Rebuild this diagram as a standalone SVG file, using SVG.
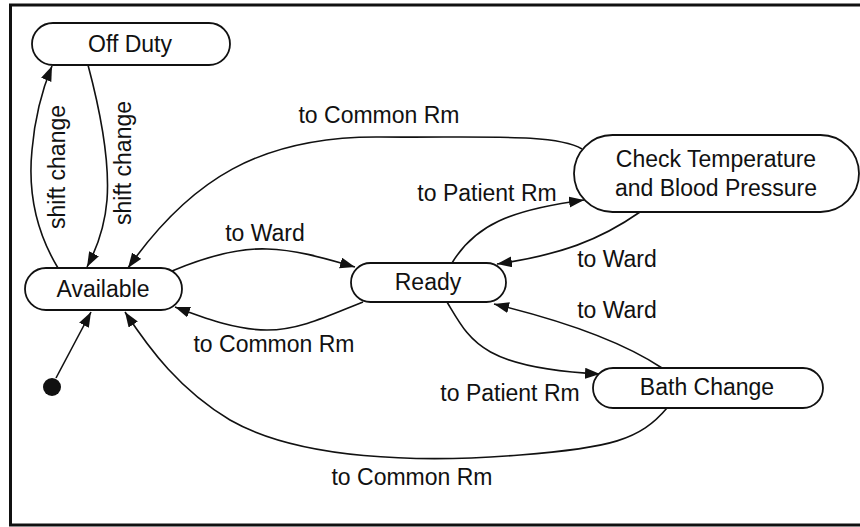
<svg xmlns="http://www.w3.org/2000/svg" width="860" height="527" viewBox="0 0 860 527">
  <style>
    .state { fill: #fff; stroke: #111; stroke-width: 1.8; }
    .label { font-family: "Liberation Sans", Arial, sans-serif; font-size: 23px; fill: #111; text-anchor: middle; }
    .edge { fill: none; stroke: #111; stroke-width: 1.6; marker-end: url(#arrow); }
  </style>
  <defs>
    <marker id="arrow" markerUnits="userSpaceOnUse" markerWidth="16" markerHeight="12" refX="15" refY="5.5" orient="auto">
      <path d="M0,0 L15,5.5 L0,11 z" fill="#111"/>
    </marker>
  </defs>

  <rect x="0" y="0" width="860" height="527" fill="#fff"/>
  <!-- outer frame -->
  <rect x="10.5" y="5" width="880" height="520" fill="none" stroke="#111" stroke-width="3"/>

  <!-- transitions -->
  <g id="connectors">
    <path class="edge" d="M58,268 C35,230 28,190 32,150 C35,115 42,90 52,66"/>
    <path class="edge" d="M88,65 C100,110 110,160 107,200 C105,225 96,250 87,267"/>
    <path class="edge" d="M582,149 C555,133 480,138 380,137 C260,136 190,180 128,268"/>
    <path class="edge" d="M172,271 C210,255 240,248 267,249 C300,250 330,260 355,267"/>
    <path class="edge" d="M363,302 C330,315 300,330 267,330 C235,330 205,318 175,307"/>
    <path class="edge" d="M452,263 C475,225 510,210 584,200"/>
    <path class="edge" d="M640,212 C600,240 560,255 497,264"/>
    <path class="edge" d="M447,302 C470,340 480,368 600,374"/>
    <path class="edge" d="M662,368 C620,340 560,320 494,304"/>
    <path class="edge" d="M667,408 C640,440 610,448 520,455 C420,463 300,460 230,420 C180,390 150,350 125,312"/>
    <path class="edge" d="M56,378 L91,312"/>
  </g>

  <!-- transition labels -->
  <g id="edge-labels">
    <text class="label" transform="translate(65,167) rotate(-90)">shift change</text>
    <text class="label" transform="translate(131,163) rotate(-90)">shift change</text>
    <text class="label" x="379" y="123">to Common Rm</text>
    <text class="label" x="265" y="241">to Ward</text>
    <text class="label" x="274" y="352">to Common Rm</text>
    <text class="label" x="487" y="201">to Patient Rm</text>
    <text class="label" x="617" y="267">to Ward</text>
    <text class="label" x="617" y="318">to Ward</text>
    <text class="label" x="510" y="401">to Patient Rm</text>
    <text class="label" x="412" y="485">to Common Rm</text>
  </g>

  <g id="initial">
    <circle cx="52" cy="387" r="9" fill="#111"/>
  </g>

  <g id="off-duty">
    <rect class="state" x="32" y="23" width="198" height="42" rx="21"/>
    <text class="label" x="130" y="52">Off Duty</text>
  </g>

  <g id="available">
    <rect class="state" x="25" y="268" width="157" height="42" rx="21"/>
    <text class="label" x="103" y="297">Available</text>
  </g>

  <g id="ready">
    <rect class="state" x="351" y="263" width="155" height="39" rx="19.5"/>
    <text class="label" x="428" y="290">Ready</text>
  </g>

  <g id="check-temperature">
    <rect class="state" x="574" y="135" width="285" height="77" rx="38.5"/>
    <text class="label" x="716" y="167">Check Temperature</text>
    <text class="label" x="716" y="196">and Blood Pressure</text>
  </g>

  <g id="bath-change">
    <rect class="state" x="593" y="368" width="230" height="40" rx="20"/>
    <text class="label" x="707" y="395">Bath Change</text>
  </g>
</svg>
